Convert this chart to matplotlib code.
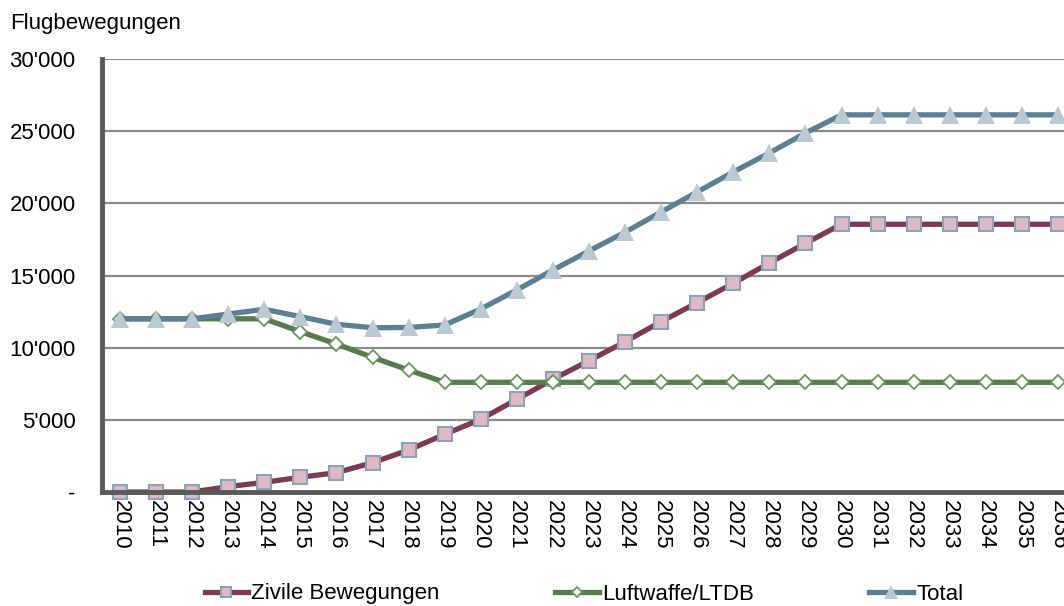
import matplotlib
matplotlib.use("Agg")
import matplotlib.pyplot as plt
from matplotlib.ticker import FixedLocator

plt.rcParams['font.family'] = ['Liberation Sans', 'DejaVu Sans']

years = [str(y) for y in range(2010, 2037)]
zivile = [0, 0, 0, 370, 670, 1020, 1340, 2030, 2910, 4000, 5040, 6420, 7810, 9100,
          10410, 11800, 13120, 14460, 15870, 17230, 18550, 18550, 18550, 18550, 18550, 18550, 18550]
luftwaffe = [12000, 12000, 12000, 12000, 12000, 11110, 10250, 9330, 8450, 7600, 7600, 7600,
             7600, 7600, 7600, 7600, 7600, 7600, 7600, 7600, 7600, 7600, 7600, 7600, 7600, 7600, 7600]
total = [12000, 12000, 12000, 12330, 12660, 12150, 11620, 11380, 11400, 11570, 12680, 14000,
         15380, 16700, 18000, 19400, 20790, 22170, 23490, 24870, 26130, 26130, 26130, 26130,
         26130, 26130, 26130]
y_ticks = [0, 5000, 10000, 15000, 20000, 25000, 30000]
y_labels = ["-", "5'000", "10'000", "15'000", "20'000", "25'000", "30'000"]
series_names = ["Zivile Bewegungen", "Luftwaffe/LTDB", "Total"]

FS = 16

fig = plt.figure(figsize=(10.64, 6.06), dpi=100)
ax = fig.add_axes([102/1064, 1-492/606, 974/1064, 433/606])

x = list(range(len(years)))
ax.plot(x, zivile, color='#7B3B52', lw=3.8, marker='s', ms=9.5, mfc='#DDB9C6',
        mec='#8DA2B4', mew=1.5, label=series_names[0], zorder=3, clip_on=False)
ax.plot(x, luftwaffe, color='#587A4E', lw=3.8, marker='D', ms=7, mfc='white',
        mec='#6B9563', mew=1.3, label=series_names[1], zorder=3, clip_on=False)
ax.plot(x, total, color='#5E7F92', lw=3.8, marker='^', ms=13, mfc='#BAC9D2',
        mec='#BAC9D2', mew=0, label=series_names[2], zorder=4, clip_on=False)

ax.set_xlim(-0.5, len(years) - 0.5)
ax.set_ylim(0, 30000)
ax.yaxis.set_major_locator(FixedLocator(y_ticks))
ax.set_yticklabels(y_labels)
ax.set_xticks(x)
ax.set_xticklabels(years, rotation=-90, fontsize=FS)
ax.tick_params(axis='x', length=0, pad=6)
ax.tick_params(axis='y', length=0, pad=19, labelsize=FS)
for lab in ax.get_yticklabels():
    lab.set_horizontalalignment('right')

ax.grid(axis='y', color='#8C8C8C', lw=1.6)
ax.set_axisbelow(True)
for s in ['top', 'right']:
    ax.spines[s].set_visible(False)
for s in ['left', 'bottom']:
    ax.spines[s].set_color('#595959')
    ax.spines[s].set_linewidth(3.5)
    ax.spines[s].set_zorder(5)

fig.text(10/1064, 1-24/606, "Flugbewegungen", fontsize=FS, va='center', ha='left')

handles, labels = ax.get_legend_handles_labels()
leg = fig.legend(handles, labels, loc='center', bbox_to_anchor=(584/1064, 1-594/606),
                 ncol=3, frameon=False, fontsize=FS, handlelength=1.95,
                 columnspacing=5.2, handletextpad=0.15)
for h in leg.legend_handles:
    h.set_markersize(h.get_markersize() * 0.8)

fig.savefig("out.png", dpi=100)
